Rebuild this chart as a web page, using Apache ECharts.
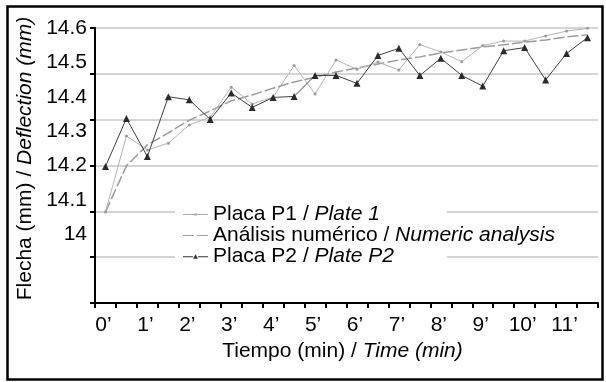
<!DOCTYPE html>
<html>
<head>
<meta charset="utf-8">
<script src="https://cdn.jsdelivr.net/npm/echarts@6/dist/echarts.min.js"></script>
<style>html,body{margin:0;padding:0;background:#fff}#c{width:606px;height:382px}</style>
</head>
<body>
<div id="c"></div>
<script>
// Time categories (every 30 s); labels shown every minute
var xCategories = ["0’","0,5’","1’","1,5’","2’","2,5’","3’","3,5’","4’","4,5’","5’","5,5’",
                   "6’","6,5’","7’","7,5’","8’","8,5’","9’","9,5’","10’","10,5’","11’","11,5’"];
// Deflection (mm)
var plateP1 = [14.065,14.286,14.245,14.265,14.318,14.341,14.428,14.379,14.399,14.491,14.408,14.507,
               14.480,14.501,14.478,14.552,14.530,14.502,14.549,14.562,14.562,14.577,14.591,14.599];
var numeric = [14.065,14.199,14.260,14.295,14.332,14.359,14.388,14.405,14.425,14.443,14.457,14.472,
               14.484,14.495,14.507,14.516,14.527,14.536,14.545,14.551,14.559,14.565,14.574,14.580];
var plateP2 = [14.197,14.337,14.226,14.400,14.391,14.334,14.411,14.369,14.398,14.401,14.462,14.462,
               14.439,14.520,14.541,14.462,14.512,14.462,14.431,14.534,14.543,14.449,14.526,14.572];
var yTickLabels = [14, 14.1, 14.2, 14.3, 14.4, 14.5, 14.6];
var legendEs = ["Placa P1", "Análisis numérico", "Placa P2"];
var legendEn = ["Plate 1", "Numeric analysis", "Plate P2"];
var names = legendEs.map(function(s, i){ return s + " / " + legendEn[i]; });

var FONT = "'Liberation Sans', Arial, sans-serif";
var ICON_P1 = 'path://M0,3.5h11v1h-11z M11,3h3v2h-3z M14,3.5h11v1h-11z';
var ICON_NUM = 'path://M0,3.5h11v1.2h-11z M14,3.5h11v1.2h-11z';
var ICON_P2 = 'path://M0,3.5h10v1h-10z M10,6 L12.5,1.5 L15,6z M15,3.5h10v1h-10z';

var chart = echarts.init(document.getElementById('c'), null, {renderer: 'canvas'});
chart.setOption({
  backgroundColor: '#fff',
  animation: false,
  textStyle: {fontFamily: FONT},
  grid: {left: 95, top: 28, right: 8, bottom: 79, containLabel: false},
  graphic: [
    {type: 'rect', left: 5, top: 4, z: 10, silent: true,
     shape: {width: 595, height: 373},
     style: {fill: 'none', stroke: '#000', lineWidth: 2.5}},
    {type: 'rect', left: 175, top: 203, z: 1, silent: true,
     shape: {width: 272, height: 62},
     style: {fill: '#fff'}}
  ],
  legend: {
    orient: 'vertical', left: 183, top: 204, padding: 0,
    itemGap: 0, itemWidth: 25, itemHeight: 8,
    data: [
      {name: names[0], icon: ICON_P1, itemStyle: {color: '#a8a8a8'}},
      {name: names[1], icon: ICON_NUM, itemStyle: {color: '#a0a0a0'}},
      {name: names[2], icon: ICON_P2, itemStyle: {color: '#333333'}}
    ],
    textStyle: {fontSize: 21, fontFamily: FONT, color: '#000', lineHeight: 20,
      rich: {n: {fontSize: 21, fontFamily: FONT, color: '#000', lineHeight: 20},
             i: {fontSize: 21, fontFamily: FONT, color: '#000', fontStyle: 'italic', lineHeight: 20}}},
    formatter: function(name){ var p = name.split(' / '); return '{n|' + p[0] + ' / }{i|' + p[1] + '}'; }
  },
  xAxis: {
    type: 'category', data: xCategories, boundaryGap: true,
    nameLocation: 'middle', nameGap: 36,
    name: '{n|Tiempo (min) / }{i|Time (min)}',
    nameTextStyle: {fontSize: 21, color: '#000', padding: [0, 8, 0, 0],
      rich: {n: {fontSize: 21, fontFamily: FONT, color: '#000'},
             i: {fontSize: 21, fontFamily: FONT, color: '#000', fontStyle: 'italic'}}},
    axisLine: {lineStyle: {color: '#000', width: 2}},
    axisTick: {show: true, interval: 0, length: 5, lineStyle: {color: '#000', width: 2}},
    axisLabel: {interval: 1, fontSize: 21, color: '#000', margin: 12, fontFamily: FONT, padding: [0, 4, 0, 0]},
    splitLine: {show: false}
  },
  yAxis: [
    {type: 'value', min: 0, max: 12, interval: 1, position: 'left',
     axisLine: {show: true, lineStyle: {color: '#000', width: 2}},
     axisTick: {show: true, customValues: [0, 2, 4, 6, 8, 10, 12], length: 5, lineStyle: {color: '#000', width: 2}},
     axisLabel: {show: false},
     splitLine: {show: true, lineStyle: {color: '#c6c6c6', width: 1.5}}
    },
    {type: 'value', min: 13.8, max: 14.6, position: 'left',
     name: '{n|Flecha (mm) / }{i|Deflection (mm)}',
     nameLocation: 'middle', nameGap: 58, nameRotate: 90,
     nameTextStyle: {fontSize: 21, color: '#000', padding: [0, 0, 0, 14],
       rich: {n: {fontSize: 21, fontFamily: FONT, color: '#000'},
              i: {fontSize: 21, fontFamily: FONT, color: '#000', fontStyle: 'italic'}}},
     axisLine: {show: false}, axisTick: {show: false},
     axisLabel: {customValues: yTickLabels, fontSize: 21, color: '#000', margin: 8, fontFamily: FONT},
     splitLine: {show: false}
    }
  ],
  series: [
    {name: names[0], type: 'line', yAxisIndex: 1, data: plateP1, z: 3,
     symbol: 'circle', symbolSize: 3, showSymbol: true,
     lineStyle: {color: '#b4b4b4', width: 1},
     itemStyle: {color: '#9a9a9a'}},
    {name: names[1], type: 'line', yAxisIndex: 1, data: numeric, z: 2,
     symbol: 'none', showSymbol: false,
     lineStyle: {color: '#9c9c9c', width: 1.5, type: [11, 3]},
     itemStyle: {color: '#9c9c9c'}},
    {name: names[2], type: 'line', yAxisIndex: 1, data: plateP2, z: 4,
     symbol: 'triangle', symbolSize: 7, showSymbol: true,
     lineStyle: {color: '#404040', width: 1},
     itemStyle: {color: '#2a2a2a'}}
  ]
});
</script>
</body>
</html>
